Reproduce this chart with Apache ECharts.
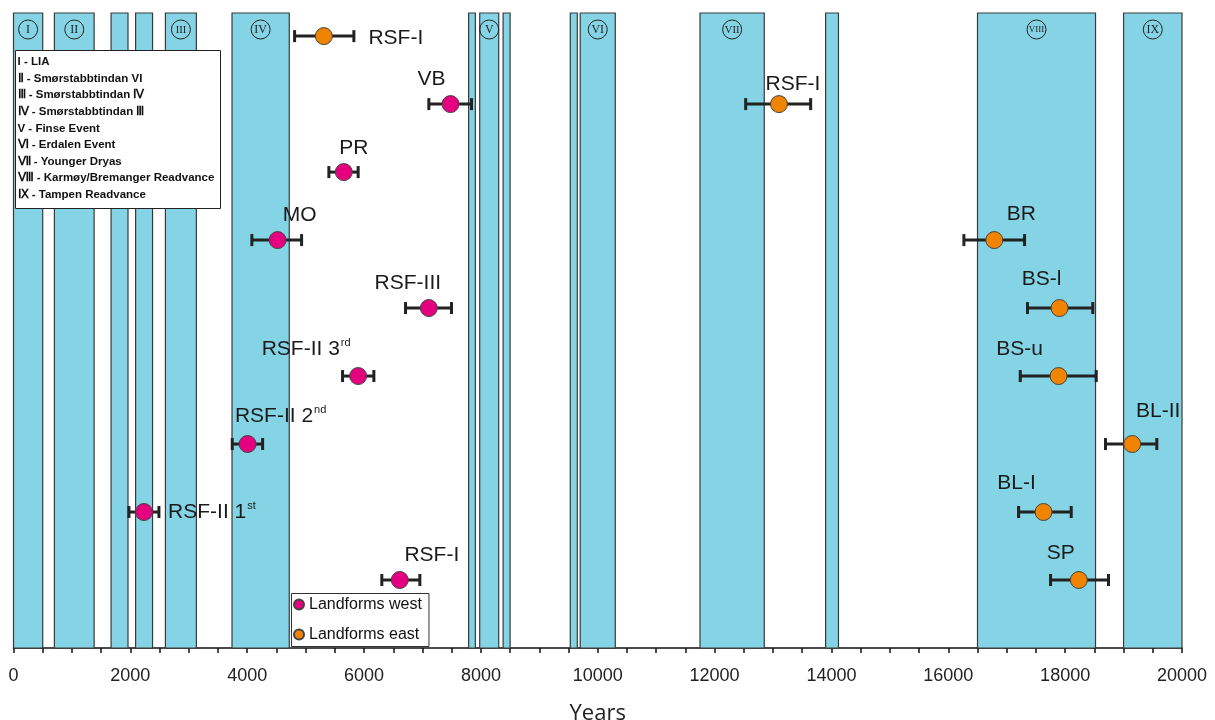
<!DOCTYPE html>
<html><head><meta charset="utf-8">
<script src="https://cdn.jsdelivr.net/npm/echarts@6/dist/echarts.min.js"></script>
<style>html,body{margin:0;padding:0;background:#fff}#c{width:1215px;height:720px}</style>
</head><body><div id="c"></div>
<script>
// Glacial periods (years)
const periodStart = [0, 700, 1670, 2090, 2600, 3740, 7790, 7980, 8380, 9530, 9700, 11750, 13900, 16500, 19000];
const periodEnd   = [500, 1380, 1960, 2380, 3130, 4720, 7905, 8305, 8500, 9650, 10300, 12850, 14120, 18520, 20000];
const periodNumeral = ['I', 'II', '', '', 'III', 'IV', '', 'V', '', '', 'VI', 'VII', '', 'VIII', 'IX'];
const periodLegend = [
  'I - LIA',
  'Ⅱ - Smørstabbtindan VI',
  'Ⅲ - Smørstabbtindan Ⅳ',
  'Ⅳ - Smørstabbtindan Ⅲ',
  'V - Finse Event',
  'Ⅵ - Erdalen Event',
  'Ⅶ - Younger Dryas',
  'Ⅷ - Karmøy/Bremanger Readvance',
  'Ⅸ - Tampen Readvance'
];

// Landforms west
const westNames = ['VB', 'PR', 'MO', 'RSF-III', 'RSF-II 3rd', 'RSF-II 2nd', 'RSF-II 1st', 'RSF-I'];
const westRow   = [8, 7, 6, 5, 4, 3, 2, 1];
const westAge   = [7480, 5654, 4520, 7109, 5899, 4007, 2233, 6612];
const westLow   = [7109, 5398, 4080, 6710, 5632, 3744, 1976, 6304];
const westHigh  = [7839, 5899, 4931, 7497, 6168, 4264, 2489, 6955];

// Landforms east
const eastNames = ['RSF-I', 'RSF-I', 'BR', 'BS-l', 'BS-u', 'BL-II', 'BL-I', 'SP'];
const eastRow   = [9, 8, 6, 5, 4, 3, 2, 1];
const eastAge   = [5312, 13102, 16787, 17904, 17887, 19148, 17630, 18234];
const eastLow   = [4811, 12532, 16267, 17356, 17232, 18691, 17203, 17750];
const eastHigh  = [5826, 13644, 17305, 18473, 18532, 19569, 18104, 18742];

const xTickLabels = [0, 2000, 4000, 6000, 8000, 10000, 12000, 14000, 16000, 18000, 20000];

// label placement (style only): offsets of label centre from the point
const westLabelOffset = [[-19,-25],[10,-24],[22,-25],[-21,-25],[-52,-27],[33,-28],[68,0],[32,-25]];
const eastLabelOffset = [[72,2],[14,-20],[27,-26],[-18,-29],[-39,-27],[26,-33],[-27,-29],[-18,-27]];

const Y_MAX = 9.34;
const WEST = '#e4007f', EAST = '#f08300';
const labelFont = "'Liberation Sans', Arial, sans-serif";

function fmtName(n) {
  const m = n.match(/^(.*\d)(st|nd|rd|th)$/);
  return m ? '{m|' + m[1] + '}{s|' + m[2] + '}' : '{m|' + n + '}';
}
const richStyle = {
  m: { fontSize: 21, lineHeight: 24, color: '#1a1a1a', fontFamily: labelFont },
  s: { fontSize: 11, lineHeight: 16, verticalAlign: 'top', color: '#1a1a1a', fontFamily: labelFont, padding: [0, 0, 0, 1] }
};

function pointData(names, ages, rows, offsets) {
  return names.map((n, i) => ({
    value: [ages[i], rows[i]],
    name: n,
    label: { offset: offsets[i] }
  }));
}
function errData(lows, highs, rows) {
  return lows.map((l, i) => [l, highs[i], rows[i]]);
}

function renderErr(params, api) {
  const y = api.value(2);
  const p1 = api.coord([api.value(0), y]);
  const p2 = api.coord([api.value(1), y]);
  const h = 6;
  const style = { stroke: '#222', lineWidth: 3 };
  return { type: 'group', children: [
    { type: 'line', shape: { x1: p1[0], y1: p1[1], x2: p2[0], y2: p2[1] }, style },
    { type: 'line', shape: { x1: p1[0], y1: p1[1] - h, x2: p1[0], y2: p1[1] + h }, style },
    { type: 'line', shape: { x1: p2[0], y1: p2[1] - h, x2: p2[0], y2: p2[1] + h }, style }
  ]};
}

function renderPeriod(params, api) {
  const s = api.coord([api.value(0), Y_MAX]);
  const e = api.coord([api.value(1), 0]);
  const children = [{
    type: 'rect',
    shape: { x: s[0], y: s[1], width: e[0] - s[0], height: e[1] - s[1] },
    style: { fill: '#84d4e6', stroke: '#3a3a3a', lineWidth: 1.2 }
  }];
  const num = periodNumeral[params.dataIndex];
  if (num) {
    const cx = (s[0] + e[0]) / 2, cy = s[1] + 16.5;
    const fs = num.length <= 2 ? 12 : (num.length === 3 ? 10.5 : 9);
    children.push(
      { type: 'circle', shape: { cx, cy, r: 9.5 }, style: { fill: 'none', stroke: '#222', lineWidth: 1 } },
      { type: 'text', style: { text: num, x: cx, y: cy + 0.5, align: 'center', verticalAlign: 'middle',
        font: fs + "px 'Liberation Serif', serif", fill: '#222' } }
    );
  }
  return { type: 'group', children };
}

const chart = echarts.init(document.getElementById('c'));
chart.setOption({
  animation: false,
  grid: { left: 13.5, right: 33, top: 13, bottom: 72, containLabel: false, outerBoundsMode: 'none' },
  xAxis: {
    type: 'value', min: 0, max: 20000, interval: 2000,
    name: 'Years', nameLocation: 'middle', nameGap: 55,
    nameTextStyle: { fontSize: 22, color: '#222', fontFamily: "'Open Sans', sans-serif" },
    axisLine: { lineStyle: { color: '#111', width: 1.5 } },
    axisTick: { show: true, length: 5, lineStyle: { color: '#111', width: 1.5 } },
    minorTick: { show: true, splitNumber: 4, length: 5, lineStyle: { color: '#111', width: 1.5 } },
    splitLine: { show: false },
    axisLabel: { fontSize: 18, color: '#222', margin: 19, fontFamily: "'Liberation Sans', sans-serif",
      formatter: v => xTickLabels.indexOf(v) >= 0 ? String(v) : '' }
  },
  yAxis: { type: 'value', min: 0, max: Y_MAX, show: false, splitLine: { show: false } },
  legend: {
    data: ['Landforms west', 'Landforms east'],
    orient: 'vertical', left: 291.5, top: 593.5,
    backgroundColor: '#fff', borderColor: '#333', borderWidth: 1,
    padding: [3, 7, 4, 1.5], itemGap: 14, itemWidth: 10, itemHeight: 10,
    icon: 'circle',
    textStyle: { fontSize: 16, lineHeight: 15, color: '#111', fontFamily: labelFont }
  },
  graphic: {
    elements: [
      { type: 'rect', x: 0, y: 0, z: 100, zlevel: 1,
        shape: { x: 15.5, y: 50.5, width: 205, height: 158 }, style: { fill: '#fff', stroke: '#222', lineWidth: 1 } }
    ].concat(periodLegend.map((t, i) => ({
      type: 'text', x: 0, y: 0, z: 101, zlevel: 1,
      style: { text: t, x: 17.5, y: 62 + i * 16.6, verticalAlign: 'middle',
        font: "bold 11.5px 'Liberation Sans', Arial, sans-serif", fill: '#111' }
    })))
  },
  series: [
    { type: 'custom', name: 'periods', renderItem: renderPeriod, silent: true, z: 1,
      data: periodStart.map((s, i) => [s, periodEnd[i]]) },
    { type: 'custom', name: 'errW', renderItem: renderErr, z: 3, data: errData(westLow, westHigh, westRow) },
    { type: 'custom', name: 'errE', renderItem: renderErr, z: 3, data: errData(eastLow, eastHigh, eastRow) },
    { type: 'scatter', name: 'Landforms west', z: 5, symbolSize: 17,
      itemStyle: { color: WEST, borderColor: '#444', borderWidth: 1, opacity: 1 },
      label: { show: true, position: 'inside', formatter: p => fmtName(p.name), rich: richStyle,
        color: '#1a1a1a', textBorderWidth: 0 },
      data: pointData(westNames, westAge, westRow, westLabelOffset) },
    { type: 'scatter', name: 'Landforms east', z: 5, symbolSize: 17,
      itemStyle: { color: EAST, borderColor: '#444', borderWidth: 1, opacity: 1 },
      label: { show: true, position: 'inside', formatter: p => fmtName(p.name), rich: richStyle,
        color: '#1a1a1a', textBorderWidth: 0 },
      data: pointData(eastNames, eastAge, eastRow, eastLabelOffset) }
  ]
});
</script></body></html>
